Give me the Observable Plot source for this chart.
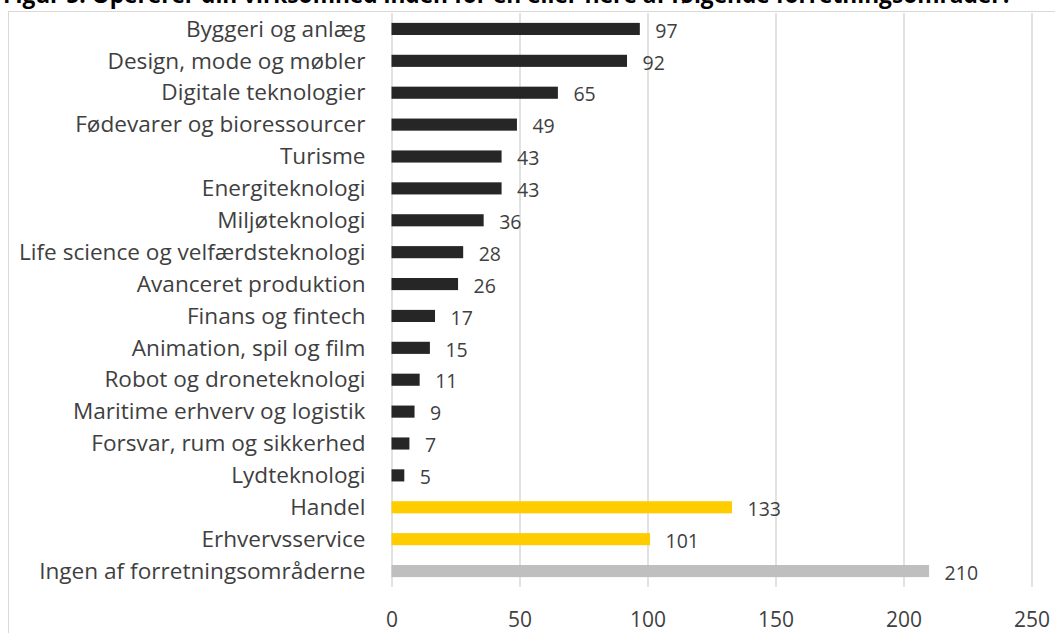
<!DOCTYPE html>
<html>
<head>
<meta charset="utf-8">
<script src="https://cdn.jsdelivr.net/npm/d3@7"></script>
<script src="https://cdn.jsdelivr.net/npm/@observablehq/plot@0.6"></script>
<style>
  html, body { margin: 0; padding: 0; background: #fff; }
  #wrap { position: relative; width: 1055px; height: 633px; overflow: hidden; background: #fff; }
  #title { position: absolute; left: 3px; top: -20px; font-family: "Open Sans", sans-serif; font-weight: bold; font-size: 22.7px; color: #000; white-space: nowrap; line-height: 30px; }
  #frame { position: absolute; left: 8px; top: 11px; width: 1100px; height: 700px; border: 1px solid #d9d9d9; box-sizing: border-box; }
  #chart { position: absolute; left: 0; top: 0; }
</style>
</head>
<body>
<div id="wrap">
  <div id="title">Figur 5: Opererer din virksomhed inden for en eller flere af følgende forretningsområder?</div>
  <div id="frame"></div>
  <div id="chart"></div>
</div>
<script>
const categories = [
  "Byggeri og anlæg",
  "Design, mode og møbler",
  "Digitale teknologier",
  "Fødevarer og bioressourcer",
  "Turisme",
  "Energiteknologi",
  "Miljøteknologi",
  "Life science og velfærdsteknologi",
  "Avanceret produktion",
  "Finans og fintech",
  "Animation, spil og film",
  "Robot og droneteknologi",
  "Maritime erhverv og logistik",
  "Forsvar, rum og sikkerhed",
  "Lydteknologi",
  "Handel",
  "Erhvervsservice",
  "Ingen af forretningsområderne"
];
const values = [97, 92, 65, 49, 43, 43, 36, 28, 26, 17, 15, 11, 9, 7, 5, 133, 101, 210];
const groups = ["klynge","klynge","klynge","klynge","klynge","klynge","klynge","klynge","klynge","klynge","klynge","klynge","klynge","klynge","klynge","andet","andet","ingen"];
const groupDomain = ["klynge", "andet", "ingen"];
const groupColors = ["#262626", "#FFCC00", "#BFBFBF"];
const xTicks = [0, 50, 100, 150, 200, 250];

const data = categories.map((c, i) => ({cat: c, value: values[i], group: groups[i]}));

const chart = Plot.plot({
  width: 1055,
  height: 633,
  marginTop: 13,
  marginBottom: 46,
  marginLeft: 391.5,
  marginRight: 23.5,
  style: {fontFamily: "'Open Sans', sans-serif", fontSize: "18px", color: "#3f3f3f", background: "transparent"},
  x: {domain: [0, 250], label: null},
  y: {domain: categories, paddingInner: 0.62, paddingOuter: 0.31, round: false, label: null},
  color: {domain: groupDomain, range: groupColors},
  marks: [
    Plot.gridX(xTicks, {stroke: "#d9d9d9", strokeOpacity: 1, strokeWidth: 1.5}),
    Plot.barX(data, {x: "value", y: "cat", fill: "group"}),
    Plot.text(data, {x: "value", y: "cat", text: d => String(d.value), textAnchor: "start", dx: 15, dy: 2, fill: "#3f3f3f", fontSize: 19.5}),
    Plot.axisY({tickSize: 0, tickPadding: 26.5, fontSize: 22.6, fill: "#3f3f3f"}),
    Plot.axisX({ticks: xTicks, tickSize: 0, tickPadding: 25, fontSize: 21, fill: "#3f3f3f"})
  ]
});
document.getElementById("chart").appendChild(chart);
</script>
</body>
</html>
